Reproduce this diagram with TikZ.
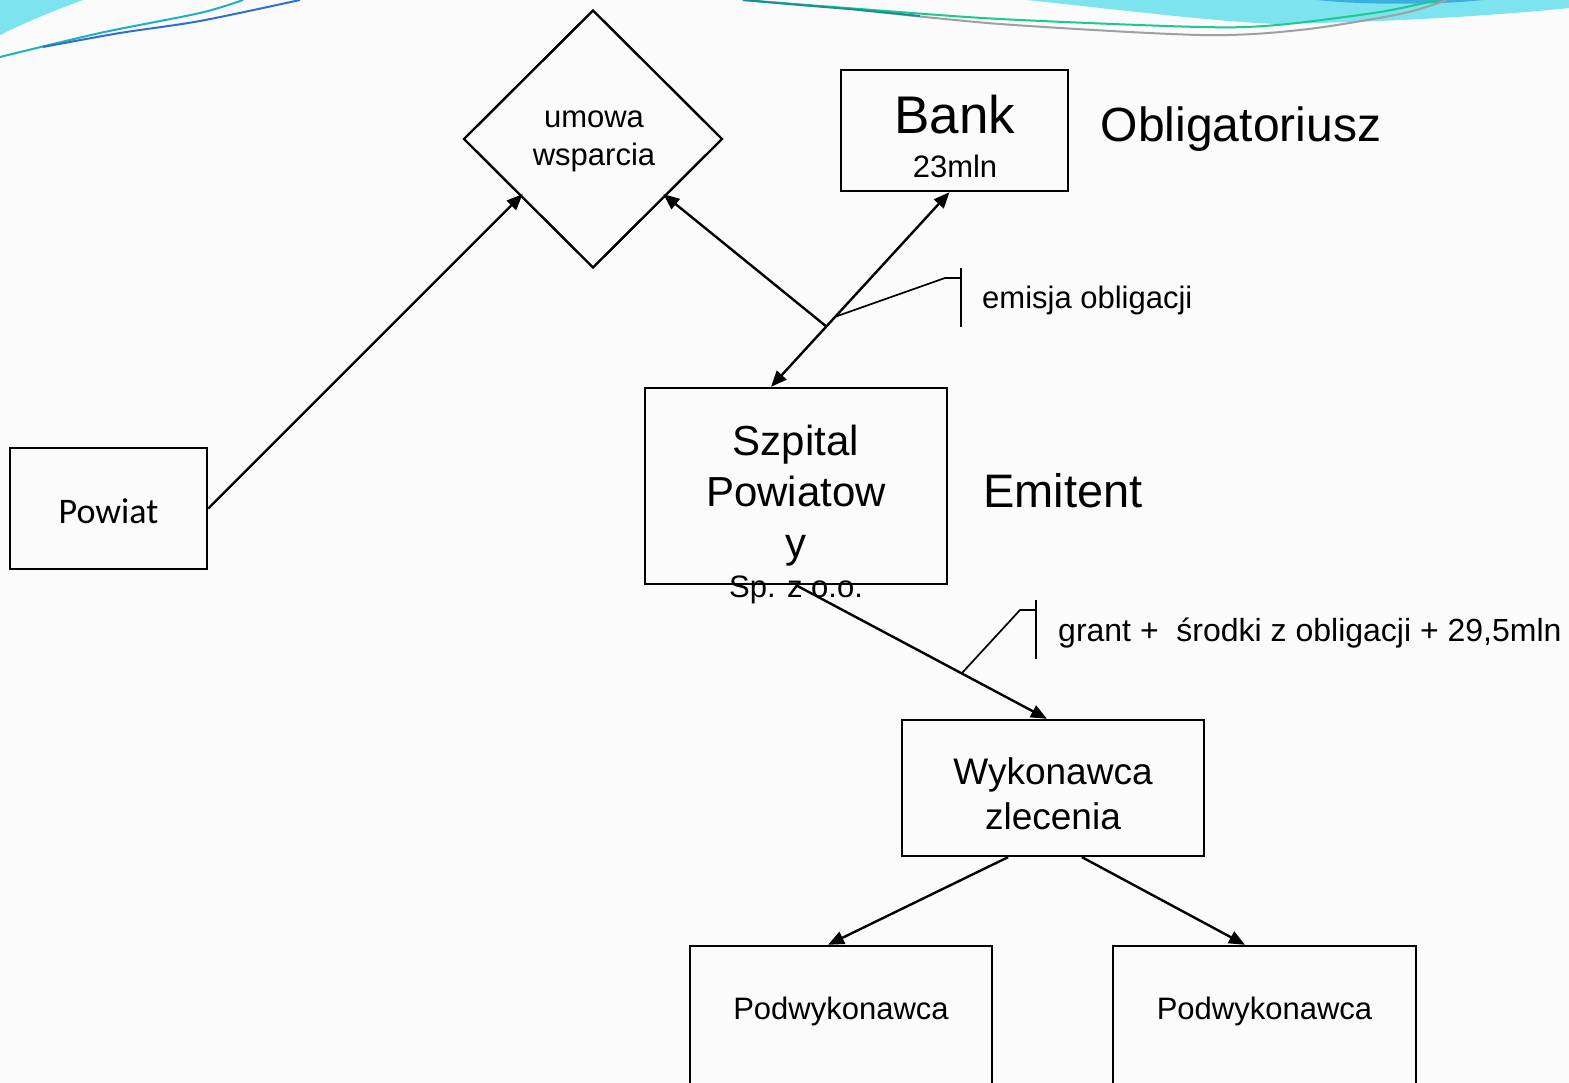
\documentclass[tikz,border=0pt]{standalone}
\usepackage{fontspec}
\setmainfont{Liberation Sans}
\newfontfamily\calib{Carlito}
\usetikzlibrary{shapes.geometric,arrows.meta,calc}
\definecolor{cyanfill}{HTML}{7DE3EE}
\definecolor{tealline}{HTML}{1FB0BE}
\definecolor{blueline}{HTML}{2F6FD0}
\definecolor{greenline}{HTML}{1CC98F}
\definecolor{grayline}{HTML}{A0A0A0}
\definecolor{deepblue}{HTML}{3BB0E0}
\definecolor{bgcol}{HTML}{FBFBFB}
\tikzset{
  box/.style={draw, line width=2.4pt, inner sep=0pt, align=center},
  txt/.style={inner sep=0pt, align=center},
  arr/.style={line width=2.4pt, -{Triangle[length=16pt,width=13pt]}},
  darr/.style={line width=2.4pt, {Triangle[length=16pt,width=13pt]}-{Triangle[length=16pt,width=13pt]}},
  lead/.style={line width=1.7pt},
  fA/.style={font=\fontsize{31}{38}\selectfont},
}
\begin{document}
\begin{tikzpicture}[x=1pt,y=-1pt]
\useasboundingbox (0,0) rectangle (1569,1083);
\clip (0,0) rectangle (1569,1083);
\fill[bgcol] (0,0) rectangle (1569,1083);

% top decorations
\fill[cyanfill] (0,0) -- (83,0) .. controls (50,12) and (20,25) .. (0,35) -- cycle;
\draw[tealline, line width=2pt] plot[smooth] coordinates {(0,57) (100,33) (200,13) (243,0)};
\draw[blueline, line width=2pt] plot[smooth] coordinates {(43,47) (120,33) (200,21) (300,0)};
\fill[cyanfill] (1027,0) .. controls (1120,10) and (1220,22) .. (1277,24) .. controls (1380,22) and (1480,17) .. (1569,8) -- (1569,0) -- cycle;
\fill[deepblue] (1317,0) .. controls (1360,5) and (1440,5) .. (1483,0) -- cycle;
\draw[greenline, line width=2pt] plot[smooth] coordinates {(743,0) (860,9) (1000,19) (1200,27) (1277,25) (1380,12) (1437,0)};
\draw[grayline, line width=2pt] plot[smooth] coordinates {(860,10) (1000,24) (1200,35) (1300,30) (1400,14) (1447,0)};
\draw[tealline!80!black, line width=2pt] plot[smooth] coordinates {(743,0) (800,5) (860,10) (920,16)};

% nodes
\node[draw, line width=2.4pt, shape=diamond, minimum width=259pt, minimum height=258pt, inner sep=0pt] (dia) at (593,139) {};
\node[txt, fA] (diatxt) at (594,141) {umowa\\wsparcia};
\node[box, minimum width=227pt, minimum height=121pt] (bank) at (954.5,130.5) {};
\node[txt, font=\fontsize{53}{60}\selectfont] (banktxt) at (955,115) {Bank};
\node[txt, fA] (banksum) at (955,166) {23mln};
\node[txt, font=\fontsize{48}{56}\selectfont] (oblig) at (1241,129) {Obligatoriusz};

\node[box, minimum width=197pt, minimum height=121pt] (pow) at (108.5,508.5) {};
\node[txt, font=\calib\fontsize{36}{42}\selectfont] (powtxt) at (108.5,511) {Powiat};

\node[box, minimum width=302pt, minimum height=196pt] (szp) at (796,486) {};
\node[txt, font=\fontsize{42}{51}\selectfont] (szptxt) at (796,496) {Szpital\\Powiatow\\y};
\node[txt, fA] (spzoo) at (796,590) {Sp. z o.o.};
\node[txt, font=\fontsize{47}{54}\selectfont] (emit) at (1063,491) {Emitent};

\node[box, minimum width=302pt, minimum height=136pt] (wyk) at (1053,788) {};
\node[txt, font=\fontsize{37}{45}\selectfont] (wyktxt) at (1053,794) {Wykonawca\\zlecenia};

\node[box, minimum width=302pt, minimum height=170pt] (pod1) at (841,1031) {};
\node[txt, fA] (pod1txt) at (841,1011) {Podwykonawca};
\node[box, minimum width=303pt, minimum height=170pt] (pod2) at (1264.5,1031) {};
\node[txt, fA] (pod2txt) at (1264.5,1011) {Podwykonawca};

\node[txt, fA, anchor=west] (emis) at (982,300) {emisja obligacji};
\node[txt, font=\fontsize{32}{38}\selectfont, anchor=west] (grant) at (1058,633) {grant +~ środki z obligacji + 29,5mln};

% connectors
\coordinate (bA) at ([xshift=-5pt]bank.south);
\coordinate (sA) at ([xshift=-25pt]szp.north);
\draw[darr] (sA) -- (bA);
\coordinate (J) at ($(bA)!0.69!(sA)$);
\draw[arr] (J) -- ([shift={(5pt,10pt)}]dia.south east);
\draw[arr] (pow.east) -- ([shift={(-5pt,10pt)}]dia.south west);

\coordinate (wA) at ([xshift=-6pt]wyk.north);
\draw[arr] (szp.south) -- (wA);
\draw[arr] ([xshift=-45pt]wyk.south) -- ([xshift=-13pt]pod1.north);
\draw[arr] ([xshift=29pt]wyk.south) -- ([xshift=-19.5pt]pod2.north);

% callouts
\coordinate (E1) at ($(bA)!0.64!(sA)$);
\coordinate (E2) at (945,278);
\coordinate (E3) at (961,278);
\draw[lead] (E1) -- (E2) -- (E3);
\draw[lead] (961,268) -- (961,327);
\coordinate (G1) at ($(szp.south)!0.66!(wA)$);
\coordinate (G2) at (1020,610);
\coordinate (G3) at (1036,610);
\draw[lead] (G1) -- (G2) -- (G3);
\draw[lead] (1036,600) -- (1036,659);
\end{tikzpicture}
\end{document}
